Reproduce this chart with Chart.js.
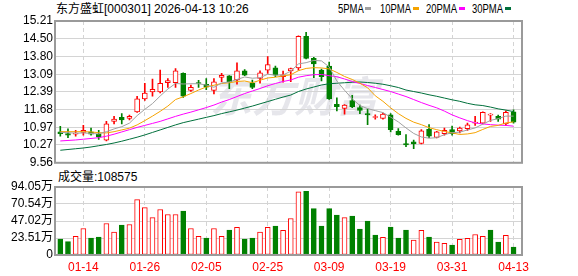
<!DOCTYPE html>
<html>
<head>
<meta charset="utf-8">
<script src="https://cdn.jsdelivr.net/npm/chart.js@4.4.1/dist/chart.umd.min.js"></script>
<style>
  html, body { margin: 0; padding: 0; background: #fff; }
  #wrap { position: relative; width: 578px; height: 276px; overflow: hidden;
          font-family: "Liberation Sans", "Noto Sans CJK SC", sans-serif; font-size: 12px; color: #000; }
  .t { position: absolute; white-space: nowrap; line-height: 14px; }
  .lg { position: absolute; white-space: nowrap; line-height: 14px; transform: scaleX(0.79); transform-origin: 0 0; }
  .sq { position: absolute; width: 6px; height: 3px; }
  canvas { position: absolute; left: 0; }
</style>
</head>
<body>
<div id="wrap">
  <div class="t" style="left:56px;top:2px">东方盛虹[000301] 2026-04-13 10:26</div>
  <div id="legend"></div>
  <div class="t" style="left:58px;top:170px">成交量:108575</div>
  <canvas id="kline" width="578" height="172" style="top:0"></canvas>
  <canvas id="vol" width="578" height="106" style="top:170px"></canvas>
</div>
<script>
// --- data ---
const dates = [
  '01-09','01-12','01-13','01-14','01-15','01-16','01-19','01-20','01-21','01-22','01-23','01-26','01-27','01-28','01-29','01-30',
  '02-02','02-03','02-04','02-05','02-06','02-09','02-10','02-11','02-12','02-13','02-24','02-25','02-26','02-27',
  '03-02','03-03','03-04','03-05','03-06','03-09','03-10','03-11','03-12','03-13','03-16','03-17','03-18','03-19','03-20',
  '03-23','03-24','03-25','03-26','03-27','03-30','03-31',
  '04-01','04-02','04-03','04-07','04-08','04-09','04-10','04-13'
];
const opens = [
  10.79,10.72,10.70,10.77,10.79,10.70,10.46,11.21,11.37,11.33,11.59,12.11,12.38,12.38,12.75,12.75,
  13.12,12.44,12.76,12.69,12.44,12.96,13.03,12.86,13.22,12.73,12.92,13.25,13.34,12.99,
  13.22,13.34,14.60,13.72,13.25,13.41,11.89,11.73,12.04,11.76,11.52,11.37,11.33,11.47,10.81,
  10.33,10.40,10.33,10.89,10.57,10.72,10.88,10.83,10.92,11.14,11.14,11.46,11.41,11.11,11.59
];
const closes = [
  10.72,10.66,10.74,10.85,10.70,10.59,11.11,11.30,11.27,11.41,12.11,12.34,12.49,12.73,12.84,13.22,
  12.21,12.57,12.72,12.57,12.79,13.05,12.79,13.22,13.05,12.56,13.14,13.47,13.05,13.07,
  13.31,14.60,13.72,13.50,12.99,12.11,11.80,11.86,11.80,11.65,11.47,11.40,11.50,10.88,10.68,
  10.27,10.31,10.83,10.62,10.79,10.85,10.72,10.94,11.07,11.18,11.57,11.50,11.30,11.57,11.18
];
const highs = [
  11.01,10.91,10.85,11.05,10.94,10.85,11.21,11.41,11.52,11.46,12.21,12.73,12.90,13.25,12.92,13.31,
  13.14,12.66,12.85,12.92,12.92,13.12,13.04,13.54,13.27,12.86,13.22,13.79,13.41,13.21,
  13.33,14.62,14.76,13.76,13.29,13.57,12.15,11.88,12.25,11.86,11.70,11.47,11.54,11.52,10.92,
  10.68,10.47,10.88,11.08,10.81,10.94,11.02,10.98,11.14,11.41,11.59,11.52,11.46,11.63,11.67
];
const lows = [
  10.62,10.56,10.62,10.66,10.66,10.49,10.43,11.11,11.11,11.27,11.57,12.05,12.21,12.34,12.56,12.56,
  12.17,12.40,12.56,12.47,12.30,12.79,12.51,12.69,13.03,12.51,12.73,13.12,12.99,12.77,
  12.79,13.25,13.70,12.95,12.82,12.09,11.63,11.50,11.76,11.52,11.08,11.30,11.30,10.79,10.66,
  10.20,10.12,10.31,10.56,10.55,10.66,10.66,10.75,10.85,11.05,11.11,11.21,11.21,11.05,11.14
];
const prevClose = 10.80;   // close of the day before 01-09
const volumes = [   // 万手
  22.0,18.4,25.7,36.7,23.4,24.8,43.6,31.7,41.3,42.2,76.6,65.6,51.8,62.9,56.0,56.0,
  60.6,36.7,25.7,23.4,36.7,25.7,34.4,38.1,22.0,23.4,31.7,38.1,39.9,34.0,
  50.5,87.2,88.1,64.2,39.9,64.2,55.1,51.8,53.7,35.8,46.8,27.5,24.3,38.5,23.4,
  34.4,20.6,34.0,24.8,17.9,16.1,13.8,21.6,22.9,28.4,25.7,34.4,17.9,27.1,10.86
];
const ma5 = [
  10.77,10.76,10.74,10.75,10.73,10.71,10.80,10.91,11.00,11.14,11.44,11.69,11.92,12.22,12.50,12.72,
  12.70,12.71,12.71,12.66,12.57,12.74,12.78,12.88,12.98,12.93,12.95,13.09,13.05,13.06,
  13.21,13.50,13.55,13.64,13.62,13.38,12.82,12.45,12.11,11.84,11.72,11.64,11.56,11.38,11.19,
  10.95,10.73,10.59,10.54,10.56,10.68,10.76,10.78,10.87,10.95,11.10,11.25,11.32,11.42,11.42
];
const ma10 = [
  10.80,10.80,10.80,10.80,10.79,10.76,10.75,10.80,10.87,10.94,11.07,11.24,11.42,11.61,11.82,12.08,
  12.19,12.32,12.46,12.58,12.65,12.72,12.75,12.80,12.82,12.75,12.85,12.94,12.97,13.02,
  13.07,13.23,13.32,13.35,13.34,13.30,13.16,13.00,12.88,12.73,12.55,12.23,12.01,11.75,11.52,
  11.33,11.18,11.08,10.96,10.88,10.81,10.75,10.69,10.71,10.76,10.89,11.01,11.05,11.15,11.19
];
const ma20 = [
  10.43,10.45,10.47,10.50,10.53,10.56,10.62,10.70,10.79,10.88,10.97,11.05,11.13,11.21,11.31,11.41,
  11.50,11.58,11.67,11.76,11.86,11.98,12.08,12.20,12.32,12.42,12.52,12.63,12.72,12.80,
  12.86,12.97,13.03,13.07,13.08,13.03,12.99,12.90,12.80,12.72,12.64,12.56,12.48,12.40,12.30,
  12.20,12.08,11.96,11.85,11.75,11.62,11.47,11.35,11.24,11.15,11.11,11.08,11.06,11.05,11.02
];
const ma30 = [
  10.06,10.09,10.12,10.15,10.19,10.24,10.29,10.35,10.42,10.50,10.58,10.67,10.77,10.87,10.97,11.07,
  11.16,11.23,11.30,11.37,11.44,11.52,11.59,11.66,11.74,11.82,11.91,12.00,12.09,12.18,
  12.26,12.40,12.50,12.58,12.66,12.71,12.73,12.75,12.77,12.78,12.76,12.73,12.69,12.63,12.56,
  12.46,12.40,12.34,12.27,12.21,12.14,12.07,12.01,11.93,11.87,11.84,11.78,11.71,11.66,11.60
];
const priceTicks = [9.56, 10.27, 10.97, 11.68, 12.39, 13.09, 13.80, 14.50, 15.21];
const volTicks = [0, 23.51, 47.02, 70.54, 94.05];
const dateTicks = ['01-14','01-26','02-05','02-25','03-09','03-19','03-31','04-13'];
const maNames = ['5PMA', '10PMA', '20PMA', '30PMA'];
const maColors = ['#a0a0a0', '#f5a300', '#ff00ff', '#00703c'];
const legendX = [338, 380, 426, 472];
const legendSqX = [365, 413, 459, 505];

// --- style ---
const RED = '#ff0000', GREEN = '#008000', GRID = '#d4d4d4', FRAME = '#9a9a9a';
const FONT = { family: '"Liberation Sans", "Noto Sans CJK SC", sans-serif', size: 12 };
const X_MIN = -0.69, X_MAX = 60.1;

Chart.defaults.font.family = FONT.family;
Chart.defaults.font.size = FONT.size;

// legend (html text)
const legendEl = document.getElementById('legend');
maNames.forEach((name, k) => {
  const d = document.createElement('div');
  d.className = 'lg';
  d.style.left = legendX[k] + 'px';
  d.style.top = '2px';
  d.textContent = name;
  legendEl.appendChild(d);
  const s = document.createElement('div');
  s.className = 'sq';
  s.style.left = legendSqX[k] + 'px';
  s.style.top = '7px';
  s.style.background = maColors[k];
  legendEl.appendChild(s);
});

const up = closes.map((c, i) => c >= opens[i]);
const volUp = closes.map((c, i) => c >= (i ? closes[i - 1] : prevClose));
const pts = arr => arr.map((v, i) => ({ x: i, y: v }));

// chart-area frame
const framePlugin = {
  id: 'frame',
  afterDraw(chart) {
    const { ctx, chartArea: a } = chart;
    ctx.save();
    ctx.strokeStyle = FRAME;
    ctx.lineWidth = 2;
    ctx.strokeRect(a.left, a.top, a.right - a.left, a.bottom - a.top);
    ctx.restore();
  }
};

// faint watermark behind the candles
const watermarkPlugin = {
  id: 'watermark',
  beforeDraw(chart) {
    const { ctx } = chart;
    ctx.save();
    ctx.font = 'italic bold 42px "Noto Sans CJK SC"';
    ctx.fillStyle = 'rgba(195,195,208,0.42)';
    ctx.textAlign = 'center';
    ctx.textBaseline = 'middle';
    ctx.fillText('东方财富', 294, 96);
    ctx.restore();
  }
};

function xAxis(showLabels) {
  return {
    type: 'linear', min: X_MIN, max: X_MAX, offset: false,
    afterBuildTicks: s => { s.ticks = dateTicks.map(d => ({ value: dates.indexOf(d) })); },
    afterFit: s => { s.height = showLabels ? 21 : 0; },
    grid: { color: GRID, drawTicks: false, offset: false },
    border: { display: false, dash: [4, 3] },
    ticks: {
      display: showLabels, color: RED, padding: 5, autoSkip: false, maxRotation: 0,
      callback: v => dates[v]
    }
  };
}

function yAxis(min, max, tickVals, fmt) {
  return {
    min, max,
    afterBuildTicks: s => { s.ticks = tickVals.map(v => ({ value: v })); },
    afterFit: s => { s.width = 55; },
    grid: { color: GRID, drawTicks: false },
    border: { display: false },
    ticks: { color: '#000', padding: 2, autoSkip: false, callback: fmt }
  };
}

const baseOpts = {
  responsive: false,
  devicePixelRatio: 1,
  animation: false,
  events: [],
  plugins: { legend: { display: false }, tooltip: { enabled: false } }
};

// --- K line ---
new Chart(document.getElementById('kline'), {
  type: 'bar',
  data: {
    datasets: [
      ...[ma5, ma10, ma20, ma30].map((arr, k) => ({
        type: 'line', data: pts(arr), borderColor: maColors[k], borderWidth: 1,
        pointRadius: 0, tension: 0, order: 0
      })),
      {
        type: 'bar', data: lows.map((l, i) => ({ x: i, y: [l, highs[i]] })),
        backgroundColor: up.map(u => u ? RED : GREEN), barThickness: 1,
        grouped: false, order: 2
      },
      {
        type: 'bar', data: opens.map((o, i) => ({ x: i, y: [o, closes[i]] })),
        backgroundColor: up.map(u => u ? '#fff' : GREEN),
        borderColor: up.map(u => u ? RED : GREEN),
        borderWidth: 1, borderSkipped: false, barThickness: 5,
        grouped: false, order: 1
      }
    ]
  },
  options: {
    ...baseOpts,
    layout: { padding: { top: 21, right: 56, bottom: 7, left: 0 } },
    scales: {
      x: xAxis(false),
      y: yAxis(9.56, 15.21, priceTicks, v => v.toFixed(2))
    }
  },
  plugins: [watermarkPlugin, framePlugin]
});

// --- volume ---
new Chart(document.getElementById('vol'), {
  type: 'bar',
  data: {
    datasets: [{
      data: pts(volumes),
      backgroundColor: volUp.map(u => u ? '#fff' : GREEN),
      borderColor: volUp.map(u => u ? RED : GREEN),
      borderWidth: 1, borderSkipped: false, barThickness: 5, grouped: false
    }]
  },
  options: {
    ...baseOpts,
    layout: { padding: { top: 17, right: 56, bottom: 0, left: 0 } },
    scales: {
      x: xAxis(true),
      y: yAxis(0, 94.05, volTicks, v => v === 0 ? '0' : v.toFixed(2) + '万')
    }
  },
  plugins: [framePlugin]
});
</script>
</body>
</html>
